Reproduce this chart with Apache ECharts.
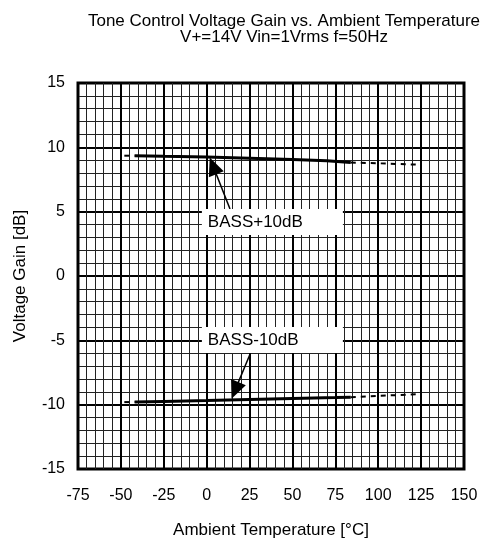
<!DOCTYPE html>
<html>
<head>
<meta charset="utf-8">
<script src="https://cdn.jsdelivr.net/npm/echarts@6/dist/echarts.min.js"></script>
<style>
html,body{margin:0;padding:0;background:#fff;}
#chart{width:480px;height:541px;}
</style>
</head>
<body>
<div id="chart"></div>
<script>
// ---- data ----
const titleText = 'Tone Control Voltage Gain vs. Ambient Temperature\nV+=14V Vin=1Vrms f=50Hz';
const xName = 'Ambient Temperature [°C]';
const yName = 'Voltage Gain [dB]';
const xTicks = [-75, -50, -25, 0, 25, 50, 75, 100, 125, 150];
const yTicks = [-15, -10, -5, 0, 5, 10, 15];

// BASS+10dB measured (solid) and extrapolated (dashed)
const plusSolidT = [-42, -25, 0, 25, 50, 70, 84];
const plusSolidV = [9.35, 9.3, 9.24, 9.15, 9.05, 8.95, 8.82];
const plusDashLowT = [-48, -42];
const plusDashLowV = [9.35, 9.35];
const plusDashHighT = [84, 100, 124];
const plusDashHighV = [8.82, 8.76, 8.65];

// BASS-10dB measured (solid) and extrapolated (dashed)
const minusSolidT = [-42, -25, 0, 25, 50, 75, 84];
const minusSolidV = [-9.8, -9.75, -9.68, -9.6, -9.52, -9.45, -9.42];
const minusDashLowT = [-48, -42];
const minusDashLowV = [-9.8, -9.8];
const minusDashHighT = [84, 100, 124];
const minusDashHighV = [-9.42, -9.32, -9.18];

// annotations (data units)
const annotLabels = ['BASS+10dB', 'BASS-10dB'];
const annotBoxCenters = [[38.3, 4.2], [38.3, -4.97]];
const annotArrowFrom = [[13.6, 5.2], [25.2, -6.1]];
const annotArrowTo = [[3.7, 8.56], [16.5, -8.89]];

// ---- chart ----
const zip = (a, b) => a.map((v, i) => [v, b[i]]);
const FONT = "'Liberation Sans', Arial, sans-serif";
const chart = echarts.init(document.getElementById('chart'), null, {renderer: 'canvas'});

function lineSeries(t, v, dashed) {
  return {
    type: 'line',
    data: zip(t, v),
    showSymbol: false,
    symbol: 'none',
    smooth: false,
    silent: true,
    z: 5,
    lineStyle: dashed
      ? {color: '#000', width: 2, type: [5, 5]}
      : {color: '#000', width: 3}
  };
}

const annotSeries = {
  type: 'line',
  data: [],
  silent: true,
  z: 8,
  markPoint: {
    silent: true,
    symbol: 'rect',
    symbolSize: [141, 26],
    itemStyle: {color: '#fff'},
    label: {
      show: true,
      position: [6, 13],
      align: 'left',
      verticalAlign: 'middle',
      color: '#000',
      fontFamily: FONT,
      fontSize: 17,
      formatter: p => p.name
    },
    data: annotLabels.map((n, i) => ({name: n, coord: annotBoxCenters[i]}))
  },
  markLine: {
    silent: true,
    animation: false,
    symbol: ['none', 'triangle'],
    symbolSize: [16, 18],
    label: {show: false},
    lineStyle: {color: '#000', width: 1.5, type: 'solid'},
    data: annotLabels.map((n, i) => [
      {coord: annotArrowFrom[i]},
      {coord: annotArrowTo[i]}
    ])
  }
};

const option = {
  animation: false,
  backgroundColor: '#fff',
  textStyle: {fontFamily: FONT, color: '#000'},
  title: {
    text: titleText,
    left: 279,
    top: 8,
    textAlign: 'center',
    textStyle: {fontFamily: FONT, fontSize: 17, fontWeight: 'normal', color: '#000', lineHeight: 16}
  },
  grid: {
    left: 78, right: 16, top: 83, bottom: 72,
    containLabel: false,
    outerBoundsMode: 'none',
    show: true,
    borderColor: '#000',
    borderWidth: 3,
    backgroundColor: 'transparent'
  },
  xAxis: {
    type: 'value',
    min: -75, max: 150, interval: 25,
    name: xName,
    nameLocation: 'middle',
    nameGap: 53,
    nameTextStyle: {fontFamily: FONT, fontSize: 17, color: '#000'},
    axisLine: {show: false},
    axisTick: {show: false},
    axisLabel: {color: '#000', fontFamily: FONT, fontSize: 16, margin: 19,
      formatter: v => xTicks.includes(v) ? String(v) : ''},
    splitLine: {show: true, lineStyle: {color: '#000', width: 2}},
    minorTick: {show: false, splitNumber: 5},
    minorSplitLine: {show: true, lineStyle: {color: '#222', width: 1}}
  },
  yAxis: {
    type: 'value',
    min: -15, max: 15, interval: 5,
    name: yName,
    nameLocation: 'middle',
    nameGap: 49,
    nameTextStyle: {fontFamily: FONT, fontSize: 17, color: '#000'},
    axisLine: {show: false},
    axisTick: {show: false},
    axisLabel: {color: '#000', fontFamily: FONT, fontSize: 16, margin: 13,
      formatter: v => yTicks.includes(v) ? String(v) : ''},
    splitLine: {show: true, lineStyle: {color: '#000', width: 2}},
    minorTick: {show: false, splitNumber: 5},
    minorSplitLine: {show: true, lineStyle: {color: '#222', width: 1}}
  },
  series: [
    lineSeries(plusSolidT, plusSolidV, false),
    lineSeries(plusDashLowT, plusDashLowV, true),
    lineSeries(plusDashHighT, plusDashHighV, true),
    lineSeries(minusSolidT, minusSolidV, false),
    lineSeries(minusDashLowT, minusDashLowV, true),
    lineSeries(minusDashHighT, minusDashHighV, true),
    annotSeries
  ]
};
chart.setOption(option);
</script>
</body>
</html>
